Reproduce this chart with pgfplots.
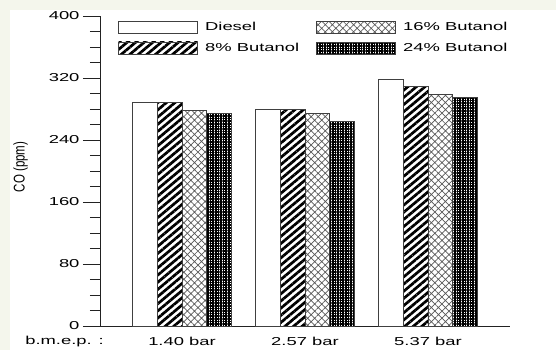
\documentclass[border=0pt]{standalone}
\usepackage{pgfplots}
\pgfplotsset{compat=1.18}
\usetikzlibrary{patterns.meta}
\usepackage{fontspec}
\setmainfont{Liberation Sans}
\definecolor{bgband}{HTML}{F4F6EC}
\definecolor{axcol}{HTML}{222222}
\newcommand{\fs}{\fontsize{11.5bp}{13bp}\selectfont}
\newcommand{\sx}[1]{\scalebox{1.6}[1]{\fs #1}}
\begin{document}
\begin{tikzpicture}
\useasboundingbox (0,0) rectangle (556bp,350bp);
\fill[bgband] (0,0) rectangle (556bp,350bp);
\fill[white] (10bp,0) rectangle (556bp,340bp);
\begin{axis}[
  at={(100bp,24bp)}, anchor=south west,
  scale only axis, width=410bp, height=310bp,
  ybar=0pt, bar width=24.7bp,
  xmin=-0.667, xmax=2.667,
  ymin=0, ymax=400,
  axis x line*=bottom, axis y line*=left,
  axis line style={axcol, line width=0.9bp},
  xtick={0,1,2},
  xticklabels={\sx{1.40 bar},\sx{2.57 bar},\sx{5.37 bar}},
  xtick style={draw=none},
  ytick={0,80,160,240,320,400},
  yticklabels={\sx{0},\sx{80},\sx{160},\sx{240},\sx{320},\sx{400}},
  minor y tick num=3,
  tick align=outside,
  major tick length=17bp,
  minor tick length=10bp,
  ytick style={axcol, line width=0.8bp},
  tick label style={font=\fs, text=black},
  xticklabel style={yshift=9bp},
  legend columns=2,
  transpose legend,
  legend cell align=left,
  legend image code/.code={\draw[#1] (0bp,-6bp) rectangle (79bp,6bp);},
  legend style={draw=none, fill=none, font=\fs, inner sep=0pt,
    at={(axis description cs:0.044,0.987)}, anchor=north west,
    row sep=7bp,
    /tikz/every even column/.append style={column sep=15bp},
    nodes={inner sep=2bp}},
  clip=false,
]
\addplot[draw=black!75, line width=0.9bp, fill=white]
  coordinates {(0,288) (1,279) (2,318)};
\addlegendentry{\hspace{5bp}\sx{Diesel}}
\addplot[draw=black!75, line width=0.9bp, pattern={Lines[angle=40,distance=5.5bp,line width=2.7bp]}, pattern color=black]
  coordinates {(0,289) (1,279) (2,309)};
\addlegendentry{\hspace{5bp}\sx{8\% Butanol}}
\addplot[draw=black!75, line width=0.9bp, pattern={Hatch[angle=45,distance=5bp,line width=0.7bp]}, pattern color=black!65]
  coordinates {(0,278) (1,274) (2,299)};
\addlegendentry{\hspace{5bp}\sx{16\% Butanol}}
\addplot[draw=black!75, line width=0.9bp, pattern={Hatch[angle=0,distance=2.6bp,line width=1.7bp]}, pattern color=black]
  coordinates {(0,274) (1,264) (2,295)};
\addlegendentry{\hspace{5bp}\sx{24\% Butanol}}
\end{axis}
\node[anchor=center] at (64.5bp,8bp) {\sx{b.m.e.p. :}};
\node[anchor=center, rotate=90] at (20.5bp,183bp) {\fs\scalebox{1}[1.35]{CO (ppm)}};
\end{tikzpicture}
\end{document}
